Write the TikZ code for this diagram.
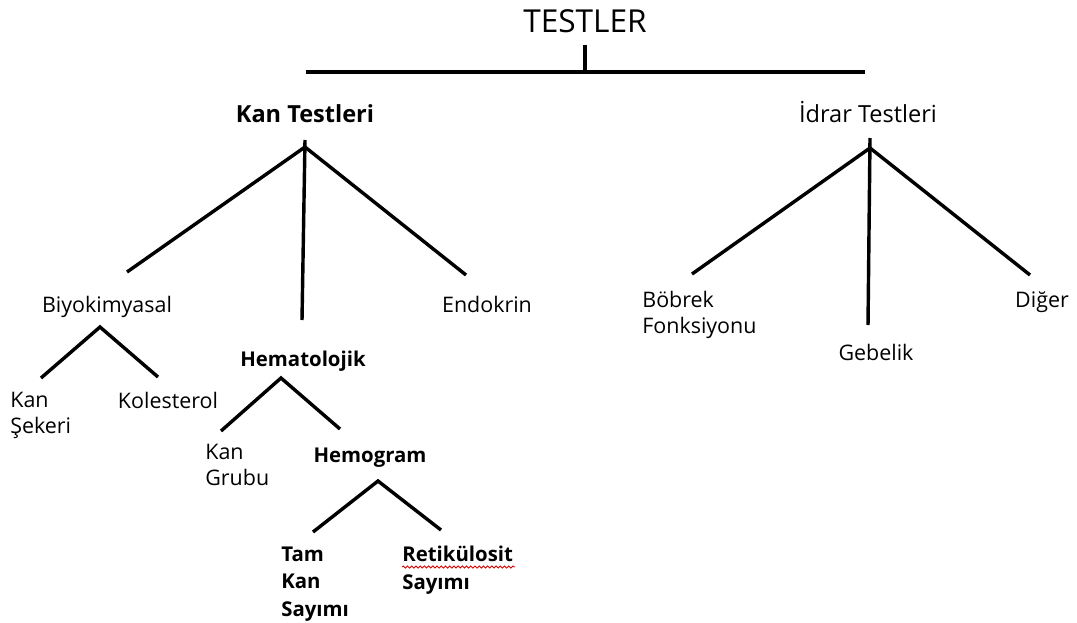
\documentclass[tikz,border=0pt]{standalone}
\usepackage{fontspec}
\setmainfont{Open Sans}
\usetikzlibrary{decorations.pathmorphing}

\begin{document}
\begin{tikzpicture}[x=0.02cm,y=-0.02cm,
  font=\fontsize{12.2}{14.6}\selectfont,
  branch/.style={line width=1.95pt, draw=black},
  leaf/.style={anchor=base, inner sep=0pt},
  multi/.style={anchor=base west, inner sep=0pt, align=left},
  strong/.style={font=\fontsize{11.6}{15.5}\selectfont\bfseries}]

\path[use as bounding box] (0,0) rectangle (1077,622);

% ------------------------------------------------------------------ root
\node[leaf, font=\fontsize{18}{20}\selectfont] (root) at (585,32) {TESTLER};
\coordinate (rootstem) at (585,45);
\coordinate (bar)      at (585,72);
\coordinate (barL)     at (306,72);
\coordinate (barR)     at (865,72);
\draw[branch] (rootstem) -- (bar);
\draw[branch] (barL) -- (barR);

\node[leaf, font=\fontsize{13.4}{15}\selectfont\bfseries] (kan) at (305,122) {Kan Testleri};
\node[leaf, font=\fontsize{13.4}{15}\selectfont] (idrar) at (868,122) {İdrar Testleri};

% ------------------------------------------------------------------ blood tests
\coordinate (kanTop)  at (305,140);
\coordinate (kanApex) at (305,147);
\coordinate (kanL)    at (127,272);
\coordinate (kanM)    at (302,320);
\coordinate (kanR)    at (466,275);
\draw[branch] (kanTop) -- (kanM);
\draw[branch] (kanL) -- (kanApex) -- (kanR);

\node[leaf] (biyo) at (107,312) {Biyokimyasal};
\node[leaf] (endo) at (487,312) {Endokrin};
\node[leaf, strong] (hema) at (303,366) {Hematolojik};

% biochemistry
\coordinate (biyoApex) at (100,327);
\coordinate (biyoL)    at (41,378);
\coordinate (biyoR)    at (158,377);
\draw[branch] (biyoL) -- (biyoApex) -- (biyoR);
\node[multi] (seker) at (10,433) {Kan\\Şekeri};
\node[leaf] (kol) at (168,408) {Kolesterol};

% haematology
\coordinate (hemaApex) at (281,378);
\coordinate (hemaL)    at (221,431);
\coordinate (hemaR)    at (340,429);
\draw[branch] (hemaL) -- (hemaApex) -- (hemaR);
\node[multi] (grup) at (205,485) {Kan\\Grubu};
\node[leaf, strong] (hemo) at (370,462) {Hemogram};

% blood count
\coordinate (hemoApex) at (378,481);
\coordinate (hemoL)    at (313,532);
\coordinate (hemoR)    at (441,530);
\draw[branch] (hemoL) -- (hemoApex) -- (hemoR);
\node[multi, strong] (tam) at (281,616) {Tam\\Kan\\Sayımı};
\node[multi, strong] (reti) at (402,589) {Retikülosit\\Sayımı};
\coordinate (wavyL) at (402,567);
\coordinate (wavyR) at (515,567);
\draw[red!85!black, line width=0.5pt,
  decorate, decoration={snake, segment length=2.4pt, amplitude=0.6pt}] (wavyL) -- (wavyR);

% ------------------------------------------------------------------ urine tests
\coordinate (idrTop)  at (870,138);
\coordinate (idrApex) at (870,148);
\coordinate (idrL)    at (692,274);
\coordinate (idrM)    at (868,325);
\coordinate (idrR)    at (1030,275);
\draw[branch] (idrTop) -- (idrM);
\draw[branch] (idrL) -- (idrApex) -- (idrR);

\node[multi] (bobrek) at (642,333) {Böbrek\\Fonksiyonu};
\node[leaf] (gebe) at (876,360) {Gebelik};
\node[leaf] (diger) at (1042,307) {Diğer};
\end{tikzpicture}
\end{document}
